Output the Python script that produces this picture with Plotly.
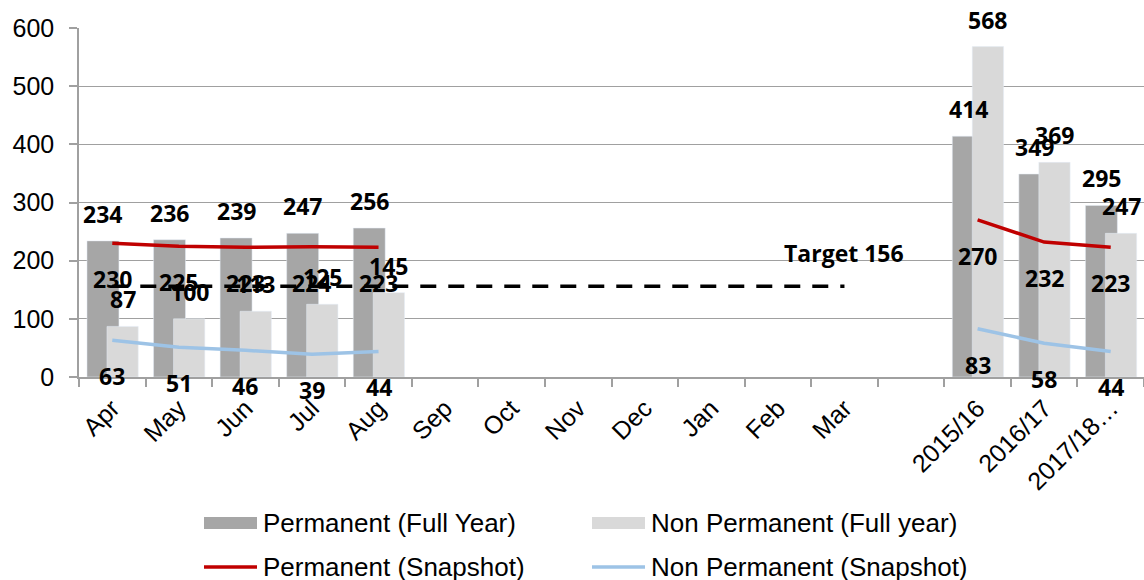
import plotly.graph_objects as go

# Categories: twelve months, a spacer, then three annual totals
categories = ["Apr", "May", "Jun", "Jul", "Aug", "Sep", "Oct", "Nov", "Dec",
              "Jan", "Feb", "Mar", "", "2015/16", "2016/17", "2017/18…"]
N = None
perm_full = [234, 236, 239, 247, 256, N, N, N, N, N, N, N, N, 414, 349, 295]
nonperm_full = [87, 100, 113, 125, 145, N, N, N, N, N, N, N, N, 568, 369, 247]
perm_snap = [230, 225, 223, 224, 223, N, N, N, N, N, N, N, N, 270, 232, 223]
nonperm_snap = [63, 51, 46, 39, 44, N, N, N, N, N, N, N, N, 83, 58, 44]
target_value = 156
target = [target_value] * 12 + [N] * 4

names = ["Permanent (Full Year)", "Non Permanent (Full year)",
         "Permanent (Snapshot)", "Non Permanent (Snapshot)"]

C_PERM = "#a6a6a6"
C_NONPERM = "#d9d9d9"
C_RED = "#c00000"
C_BLUE = "#9dc3e6"

x = list(range(len(categories)))

fig = go.Figure()
fig.add_trace(go.Bar(x=x, y=perm_full, name=names[0], marker_color=C_PERM,
                     offset=-0.38, width=0.48, showlegend=False))
fig.add_trace(go.Bar(x=x, y=nonperm_full, name=names[1], marker_color=C_NONPERM,
                     offset=-0.08, width=0.47, showlegend=False))
fig.add_trace(go.Scatter(x=x, y=target, mode="lines", name="Target",
                         line=dict(color="black", width=3.5, dash="16px,12px"),
                         showlegend=False))
fig.add_trace(go.Scatter(x=x, y=perm_snap, mode="lines", name=names[2],
                         line=dict(color=C_RED, width=3.5), showlegend=False))
fig.add_trace(go.Scatter(x=x, y=nonperm_snap, mode="lines", name=names[3],
                         line=dict(color=C_BLUE, width=3.5), showlegend=False))

LABEL_FONT = dict(family="Open Sans", size=23, color="black", weight="bold")
annotations = []


def add_labels(values, xoff, yshift):
    for i, v in enumerate(values):
        if v is None:
            continue
        annotations.append(dict(x=i + xoff, y=v, xref="x", yref="y", text=str(v),
                                showarrow=False, yshift=yshift, font=LABEL_FONT))


add_labels(perm_full, -0.14, 27)
add_labels(nonperm_full, 0.155, 27)
add_labels(perm_snap, 0, -36)
add_labels(nonperm_snap, 0, -36)
annotations.append(dict(x=11, y=target_value, xref="x", yref="y",
                        text=f"Target {target_value}", showarrow=False,
                        yshift=33, font=LABEL_FONT))

# Legend drawn below the axis: two rows, two columns
PX_L, PX_R, PX_T, PX_B = 79, 1144, 28, 377


def px_x(px):
    return (px - PX_L) / (PX_R - PX_L)


def px_y(py):
    return (PX_B - py) / (PX_B - PX_T)


shapes = []
LEG_FONT = dict(family="Liberation Sans, Arial", size=26, color="black")
legend_items = [
    (names[0], "bar", C_PERM, 204, 523),
    (names[1], "bar", C_NONPERM, 592, 523),
    (names[2], "line", C_RED, 204, 567),
    (names[3], "line", C_BLUE, 592, 567),
]
for label, kind, color, sx, sy in legend_items:
    if kind == "bar":
        shapes.append(dict(type="rect", xref="paper", yref="paper",
                           x0=px_x(sx), x1=px_x(sx + 53),
                           y0=px_y(sy - 6), y1=px_y(sy + 6),
                           fillcolor=color, line=dict(width=0)))
    else:
        shapes.append(dict(type="line", xref="paper", yref="paper",
                           x0=px_x(sx), x1=px_x(sx + 53),
                           y0=px_y(sy), y1=px_y(sy),
                           line=dict(color=color, width=3.5)))
    annotations.append(dict(x=px_x(sx + 57), y=px_y(sy), xref="paper", yref="paper",
                            text=label, showarrow=False, xanchor="left",
                            yanchor="middle", font=LEG_FONT))

fig.update_layout(
    width=1144, height=580,
    margin=dict(l=PX_L, r=1144 - PX_R, t=PX_T, b=580 - PX_B),
    plot_bgcolor="white", paper_bgcolor="white",
    barmode="overlay",
    annotations=annotations, shapes=shapes,
    showlegend=False,
    xaxis=dict(
        range=[-0.5, len(categories) - 0.5],
        tickmode="array", tickvals=x, ticktext=categories,
        tickangle=-45, ticks="", showgrid=False,
        showline=True, linecolor="#a0a0a0", linewidth=1.5,
        tickfont=dict(family="Liberation Sans, Arial", size=25, color="black"),
        minor=dict(tickmode="array",
                   tickvals=[i - 0.5 for i in range(len(categories) + 1)],
                   ticks="outside", ticklen=8, tickcolor="#a0a0a0", tickwidth=1.5),
        ticklabelstandoff=5, ticklabelshift=0,
        zeroline=False,
    ),
    yaxis=dict(
        range=[0, 600], tickmode="linear", tick0=0, dtick=100,
        showgrid=True, gridcolor="#a0a0a0", gridwidth=1.3,
        showline=True, linecolor="#a0a0a0", linewidth=1.5,
        ticks="outside", ticklen=8, tickcolor="#a0a0a0", tickwidth=1.5,
        tickfont=dict(family="Liberation Sans, Arial", size=25, color="black"),
        ticklabelstandoff=10,
        zeroline=False,
    ),
)

fig.write_html("out.html")
